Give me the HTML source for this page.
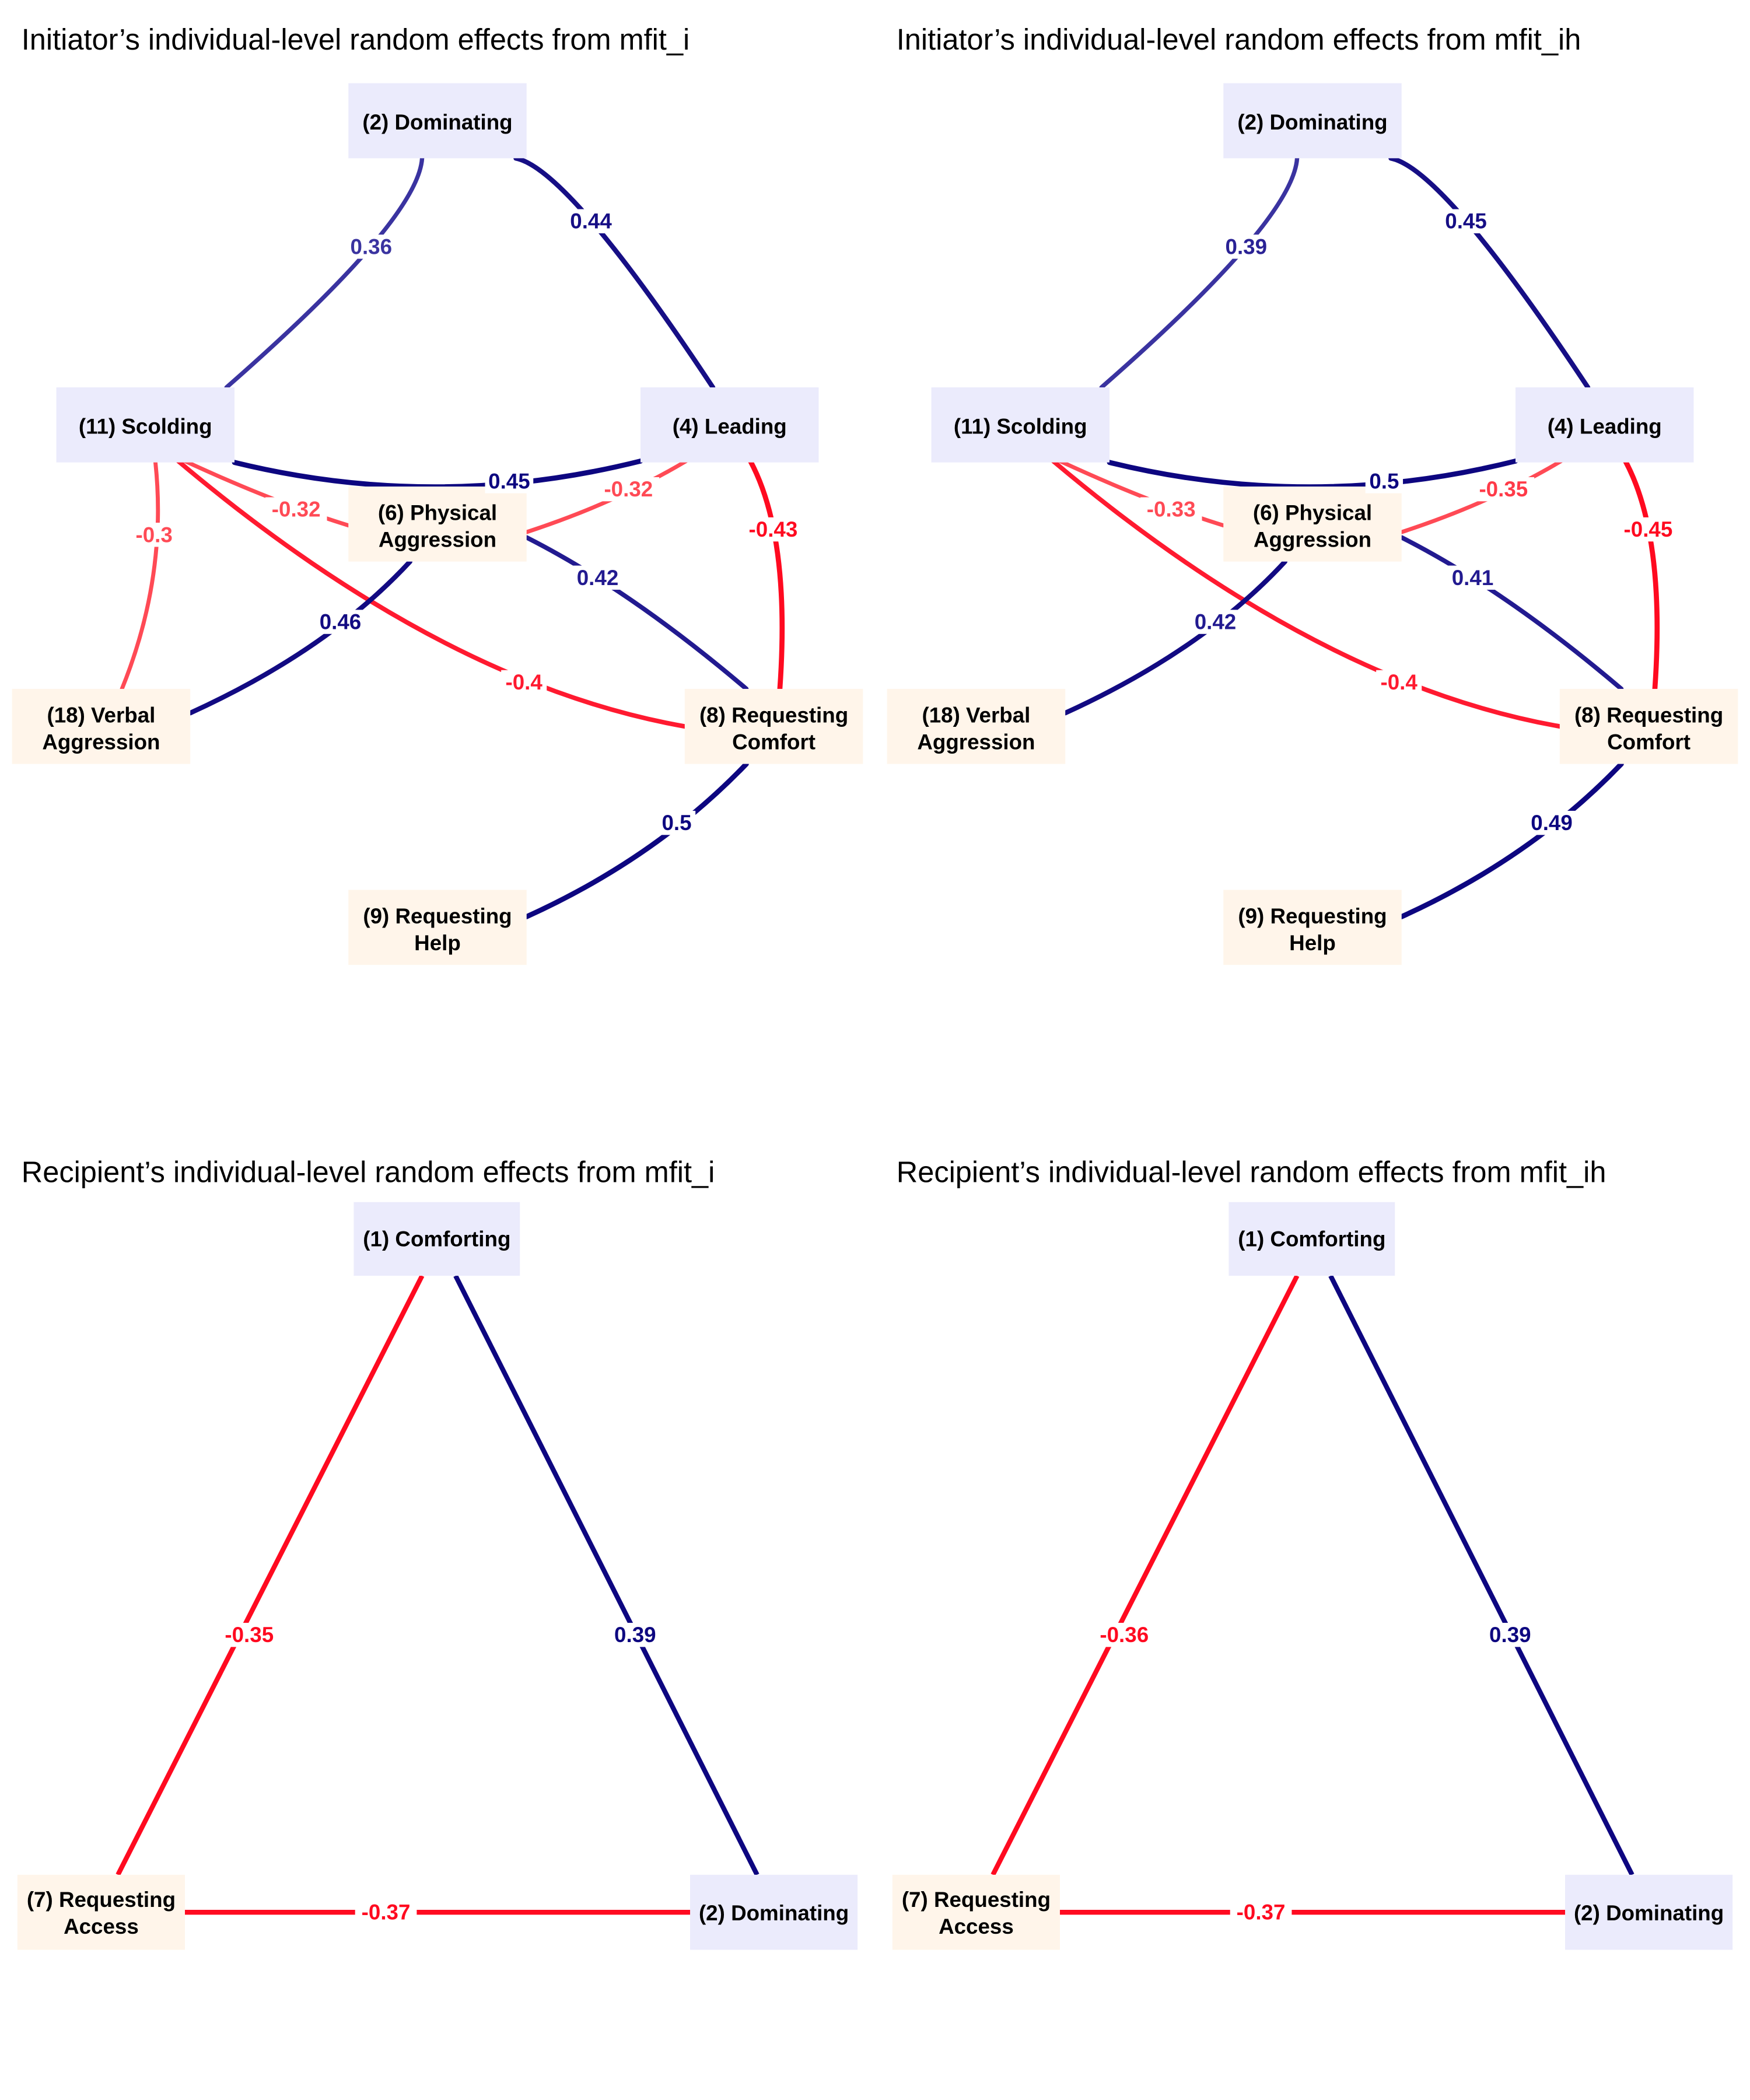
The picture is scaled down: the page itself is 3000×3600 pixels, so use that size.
<!DOCTYPE html>
<html><head><meta charset="utf-8"><style>
html,body{margin:0;padding:0;background:#fff;}
svg{display:block;}
.t{font-family:"Liberation Sans",sans-serif;font-size:22px;fill:#000;}
.n{font-family:"Liberation Sans",sans-serif;font-size:16px;font-weight:bold;fill:#000;text-anchor:middle;}
.l{font-family:"Liberation Sans",sans-serif;font-size:16px;font-weight:bold;text-anchor:middle;dominant-baseline:central;}
path{fill:none;stroke-linecap:round;}
</style></head><body>
<svg width="3000" height="3600" viewBox="0 0 1306 1567" xmlns="http://www.w3.org/2000/svg">
<defs>
<g id="top">
  <path d="M315,118 Q312,164 169,289" stroke="#3a33a0" stroke-width="3.2"/>
  <path d="M385,118 Q424,126 532,289" stroke="#160e85" stroke-width="3.6"/>
  <path d="M175,345 Q326,382 478,344" stroke="#0d0680" stroke-width="3.8"/>
  <path d="M138,344 Q205,375 260,392" stroke="#ff4a55" stroke-width="3"/>
  <path d="M512,344 Q460,375 393,397" stroke="#ff4a55" stroke-width="3"/>
  <path d="M133,344 Q330,510 511,542" stroke="#ff1a30" stroke-width="3.4"/>
  <path d="M560,344 Q590,400 582,514" stroke="#ff0a20" stroke-width="3.8"/>
  <path d="M393,401 Q470,440 557,514" stroke="#221a90" stroke-width="3.4"/>
  <path d="M306,419 Q245,485 142,532" stroke="#120a82" stroke-width="3.6"/>
  <path d="M557,570 Q490,640 393,684" stroke="#0d0680" stroke-width="3.8"/>
  <rect x="260" y="62" width="133" height="56" fill="#ebebfc"/>
  <rect x="42" y="289" width="133" height="56" fill="#ebebfc"/>
  <rect x="478" y="289" width="133" height="56" fill="#ebebfc"/>
  <rect x="260" y="363" width="133" height="56" fill="#fff5ea"/>
  <rect x="9" y="514" width="133" height="56" fill="#fff5ea"/>
  <rect x="511" y="514" width="133" height="56" fill="#fff5ea"/>
  <rect x="260" y="664" width="133" height="56" fill="#fff5ea"/>
  <text class="n" x="326.5" y="96.5">(2) Dominating</text>
  <text class="n" x="108.5" y="323.5">(11) Scolding</text>
  <text class="n" x="544.5" y="323.5">(4) Leading</text>
  <text class="n" x="326.5" y="388">(6) Physical</text>
  <text class="n" x="326.5" y="408">Aggression</text>
  <text class="n" x="75.5" y="539">(18) Verbal</text>
  <text class="n" x="75.5" y="559">Aggression</text>
  <text class="n" x="577.5" y="539">(8) Requesting</text>
  <text class="n" x="577.5" y="559">Comfort</text>
  <text class="n" x="326.5" y="689">(9) Requesting</text>
  <text class="n" x="326.5" y="709">Help</text>
</g>
</defs>

<text class="t" x="16" y="37">Initiator’s individual-level random effects from mfit_i</text>
<text class="t" x="669" y="37">Initiator’s individual-level random effects from mfit_ih</text>

<path d="M116,345 Q125,430 91,514" stroke="#ff4a55" stroke-width="3" fill="none"/>
<use href="#top"/>
<g class="l">
<rect x="257" y="175" width="40" height="18" fill="#fff"/><text x="277" y="184" fill="#3a33a0">0.36</text>
<rect x="421" y="156" width="40" height="18" fill="#fff"/><text x="441" y="165" fill="#160e85">0.44</text>
<rect x="362" y="350" width="36" height="18" fill="#fff"/><text x="380" y="359" fill="#0d0680">0.45</text>
<rect x="198" y="371" width="46" height="18" fill="#fff"/><text x="221" y="380" fill="#ff4a55">-0.32</text>
<rect x="446" y="356" width="46" height="18" fill="#fff"/><text x="469" y="365" fill="#ff4a55">-0.32</text>
<rect x="98" y="390" width="34" height="18" fill="#fff"/><text x="115" y="399" fill="#ff4a55">-0.3</text>
<rect x="554" y="386" width="46" height="18" fill="#fff"/><text x="577" y="395" fill="#ff0a20">-0.43</text>
<rect x="426" y="422" width="40" height="18" fill="#fff"/><text x="446" y="431" fill="#221a90">0.42</text>
<rect x="234" y="455" width="40" height="18" fill="#fff"/><text x="254" y="464" fill="#120a82">0.46</text>
<rect x="374" y="500" width="34" height="18" fill="#fff"/><text x="391" y="509" fill="#ff1a30">-0.4</text>
<rect x="491" y="605" width="28" height="18" fill="#fff"/><text x="505" y="614" fill="#0d0680">0.5</text>
</g>

<g transform="translate(653,0)">
<use href="#top"/>
<g class="l">
<rect x="257" y="175" width="40" height="18" fill="#fff"/><text x="277" y="184" fill="#2a2295">0.39</text>
<rect x="421" y="156" width="40" height="18" fill="#fff"/><text x="441" y="165" fill="#160e85">0.45</text>
<rect x="366" y="350" width="28" height="18" fill="#fff"/><text x="380" y="359" fill="#0d0680">0.5</text>
<rect x="198" y="371" width="46" height="18" fill="#fff"/><text x="221" y="380" fill="#ff4a55">-0.33</text>
<rect x="446" y="356" width="46" height="18" fill="#fff"/><text x="469" y="365" fill="#ff3a48">-0.35</text>
<rect x="554" y="386" width="46" height="18" fill="#fff"/><text x="577" y="395" fill="#ff0a20">-0.45</text>
<rect x="426" y="422" width="40" height="18" fill="#fff"/><text x="446" y="431" fill="#221a90">0.41</text>
<rect x="234" y="455" width="40" height="18" fill="#fff"/><text x="254" y="464" fill="#221a90">0.42</text>
<rect x="374" y="500" width="34" height="18" fill="#fff"/><text x="391" y="509" fill="#ff1a30">-0.4</text>
<rect x="485" y="605" width="40" height="18" fill="#fff"/><text x="505" y="614" fill="#0d0680">0.49</text>
</g>
</g>

<text class="t" x="16" y="882">Recipient’s individual-level random effects from mfit_i</text>
<text class="t" x="669" y="882">Recipient’s individual-level random effects from mfit_ih</text>

<g id="b1">
<line x1="315" y1="952" x2="88" y2="1399" stroke="#ff0a20" stroke-width="3.6"/>
<line x1="340" y1="952" x2="565" y2="1399" stroke="#0d0680" stroke-width="3.6"/>
<line x1="138" y1="1427" x2="515" y2="1427" stroke="#ff0a20" stroke-width="3.6"/>
<rect x="264" y="897" width="124" height="55" fill="#ebebfc"/>
<rect x="13" y="1399" width="125" height="56" fill="#fff5ea"/>
<rect x="515" y="1399" width="125" height="56" fill="#ebebfc"/>
<text class="n" x="326" y="930">(1) Comforting</text>
<text class="n" x="75.5" y="1423">(7) Requesting</text>
<text class="n" x="75.5" y="1443">Access</text>
<text class="n" x="577.5" y="1433">(2) Dominating</text>
</g>
<g class="l">
<rect x="163" y="1211" width="46" height="18" fill="#fff"/><text x="186" y="1220" fill="#ff0a20">-0.35</text>
<rect x="454" y="1211" width="40" height="18" fill="#fff"/><text x="474" y="1220" fill="#0d0680">0.39</text>
<rect x="265" y="1418" width="46" height="18" fill="#fff"/><text x="288" y="1427" fill="#ff0a20">-0.37</text>
</g>
<g transform="translate(653,0)">
<use href="#b1"/>
<g class="l">
<rect x="163" y="1211" width="46" height="18" fill="#fff"/><text x="186" y="1220" fill="#ff0a20">-0.36</text>
<rect x="454" y="1211" width="40" height="18" fill="#fff"/><text x="474" y="1220" fill="#0d0680">0.39</text>
<rect x="265" y="1418" width="46" height="18" fill="#fff"/><text x="288" y="1427" fill="#ff0a20">-0.37</text>
</g>
</g>
</svg>
</body></html>
